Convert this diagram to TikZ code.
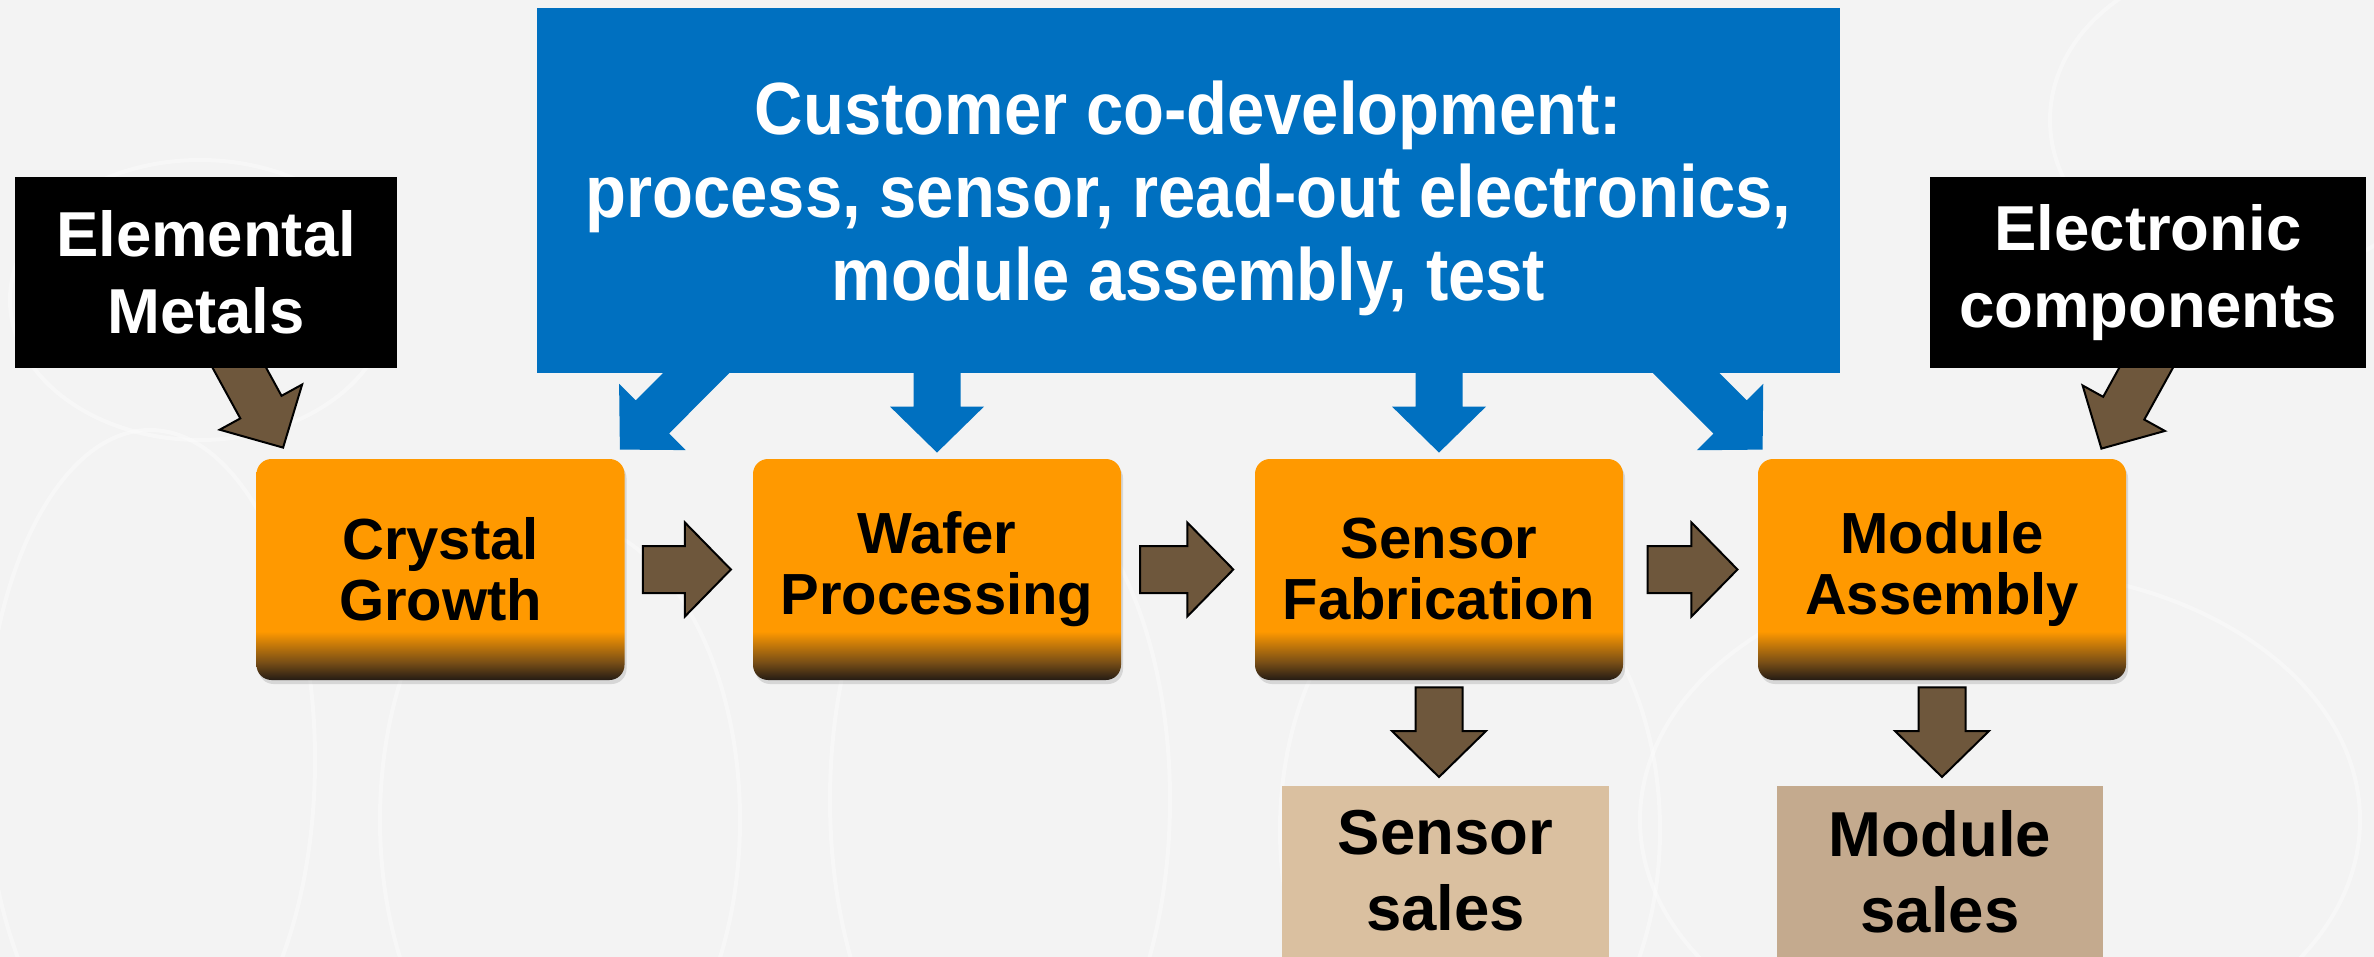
\documentclass[tikz,border=0pt]{standalone}
\usepackage{fontspec}
\setmainfont{Liberation Sans}
\newfontfamily\codevfamily[FakeStretch=0.905]{Liberation Sans}
\usetikzlibrary{calc,shadows}

\definecolor{pagegrey}{RGB}{243,243,243}
\definecolor{codevblue}{RGB}{0,112,192}
\definecolor{stageorange}{RGB}{255,153,0}
\definecolor{stagebrown}{RGB}{120,78,22}
\definecolor{stagedark}{RGB}{36,27,20}
\definecolor{linkbrown}{RGB}{110,87,60}
\definecolor{sensortan}{RGB}{218,192,160}
\definecolor{moduletan}{RGB}{196,170,142}

\pgfdeclarelayer{bg}
\pgfdeclarelayer{links}
\pgfsetlayers{bg,links,main}

\pgfdeclareverticalshading{stagefill}{100bp}{color(0bp)=(stagedark); color(25bp)=(stagedark);
  color(29bp)=(stagebrown); color(36bp)=(stageorange); color(100bp)=(stageorange)}

\newcommand\linkshaft{11.75pt}
\newcommand\linkwing{23.5pt}
\newcommand\linkhead{23pt}

\newcommand\codevfont{\codevfamily\fontsize{37pt}{41.5pt}\selectfont\bfseries}
\newcommand\supplyfont{\fontsize{31.75pt}{38.5pt}\selectfont\bfseries}
\newcommand\stagefont{\fontsize{29pt}{30.5pt}\selectfont\bfseries}
\newcommand\salesfont{\fontsize{31.75pt}{38pt}\selectfont\bfseries}

\tikzset{
  fat/.style={to path={
    let \p1=(\tikztostart), \p2=(\tikztotarget),
        \n1={atan2(\y2-\y1,\x2-\x1)}, \n2={veclen(\x2-\x1,\y2-\y1)-\linkhead} in
    ($(\p1)+({\n1+90}:\linkshaft)$)
    -- ($(\p1)+(\n1:\n2)+({\n1+90}:\linkshaft)$)
    -- ($(\p1)+(\n1:\n2)+({\n1+90}:\linkwing)$)
    -- (\p2)
    -- ($(\p1)+(\n1:\n2)+({\n1-90}:\linkwing)$)
    -- ($(\p1)+(\n1:\n2)+({\n1-90}:\linkshaft)$)
    -- ($(\p1)+({\n1-90}:\linkshaft)$)
    -- cycle}},
  link/.style={fat, fill=linkbrown, draw=black, line width=1pt},
  codevlink/.style={fat, fill=codevblue},
  texture/.style={white, line width=2pt, opacity=0.35},
  codev/.style={fill=codevblue, text=white, font=\codevfont, align=center,
    minimum width=651.5pt, minimum height=182.5pt, inner sep=0pt, text depth=0pt},
  supply/.style={fill=black, text=white, font=\supplyfont, align=center,
    minimum height=95.5pt, inner sep=0pt},
  stage/.style={rounded corners=7.5pt, shading=stagefill, font=\stagefont, align=center,
    minimum width=184pt, minimum height=110.5pt, inner sep=0pt,
    drop shadow={shadow xshift=1pt, shadow yshift=-2pt, opacity=0.25}},
  sales/.style={anchor=north, font=\salesfont, align=center,
    inner xsep=0pt, inner ysep=12pt, text depth=20pt},
}

\begin{document}
\begin{tikzpicture}[x=0.5pt,y=-0.5pt]
\useasboundingbox (0,0) rectangle (2374,957);

% sources
\node[codev] (custdev) at (1188.5,190.5) {Customer co-development:\\process, sensor, read-out electronics,\\module assembly, test};
\node[supply, minimum width=191pt] (elemental) at (206,272.5) {Elemental\\Metals};
\node[supply, minimum width=218pt] (electronic) at (2148,272.5) {Electronic\\components};

% value chain
\node[stage] (crystal) at (440.5,569.5) {Crystal\\Growth};
\node[stage] (wafer) at (937,569.5) {Wafer\\Processing};
\node[stage] (sensorfab) at (1439,569.5) {Sensor\\Fabrication};
\node[stage] (moduleasm) at (1942,569.5) {Module\\Assembly};

% outputs
\node[sales, fill=sensortan, minimum width=163.5pt] (sensorsales) at (1445.5,786) {Sensor\\sales};
\node[sales, fill=moduletan, minimum width=163pt] (modulesales) at (1940,786) {Module\\sales};

\begin{pgfonlayer}{bg}
  \fill[pagegrey] (0,0) rectangle (2374,957);
  \foreach \cx/\cy/\rx/\ry in {150/760/165/330, 200/300/190/140, 560/820/180/300,
      1000/800/170/330, 1470/830/190/280, 2000/820/360/250, 2250/120/200/160}
    \draw[texture] (\cx,\cy) ellipse [x radius=\rx, y radius=\ry];
\end{pgfonlayer}

\begin{pgfonlayer}{links}
  % co-development
  \fill[codevlink] ($(custdev.south west)+(192,-33)$) to ($(crystal.north east)+(-5,-9)$);
  \fill[codevlink] ($(custdev.south -| wafer.north)+(0,-10)$) to ($(wafer.north)+(0,-6)$);
  \fill[codevlink] ($(custdev.south -| sensorfab.north)+(0,-10)$) to ($(sensorfab.north)+(0,-6)$);
  \fill[codevlink] ($(custdev.south east)+(-187,-33)$) to ($(moduleasm.north west)+(5,-9)$);
  % supplies
  \draw[link] ($(elemental.south)+(20,-25)$) to ($(crystal.north west)+(27,-11)$);
  \draw[link] ($(electronic.south)+(11,-24)$) to ($(moduleasm.north east)+(-25,-10)$);
  % chain
  \draw[link] ($(crystal.east)!0.14!(wafer.west)$) to ($(crystal.east)!0.83!(wafer.west)$);
  \draw[link] ($(wafer.east)!0.14!(sensorfab.west)$) to ($(wafer.east)!0.84!(sensorfab.west)$);
  \draw[link] ($(sensorfab.east)!0.18!(moduleasm.west)$) to ($(sensorfab.east)!0.85!(moduleasm.west)$);
  \draw[link] ($(sensorfab.south)+(0,7)$) to ($(sensorfab.south |- sensorsales.north)+(0,-9)$);
  \draw[link] ($(moduleasm.south)+(0,7)$) to ($(moduleasm.south |- modulesales.north)+(0,-9)$);
\end{pgfonlayer}
\end{tikzpicture}
\end{document}
